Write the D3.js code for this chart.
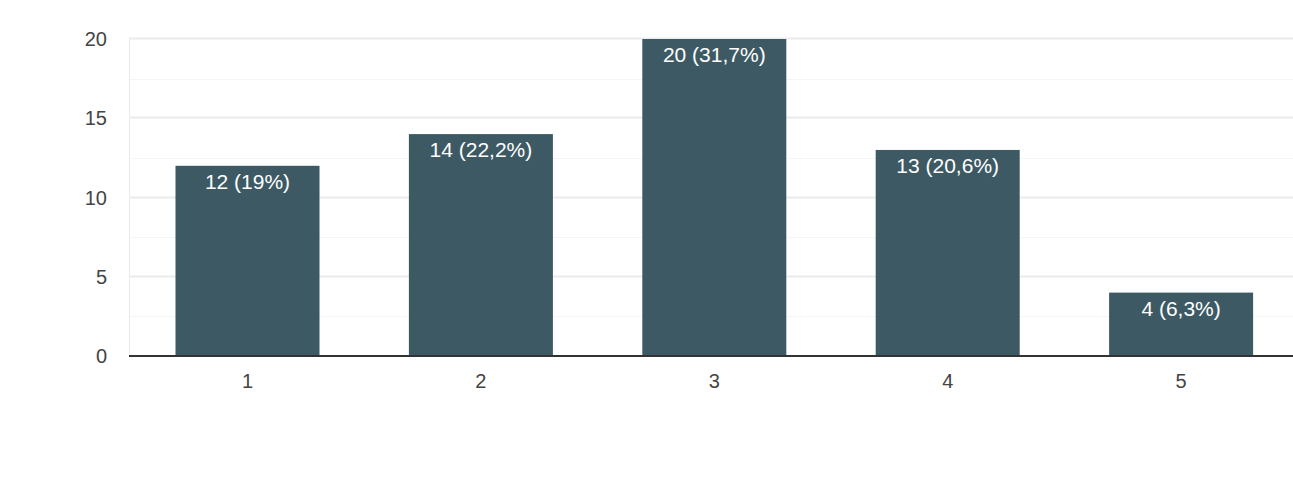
<!DOCTYPE html>
<html><head><meta charset="utf-8">
<script src="https://cdn.jsdelivr.net/npm/d3@7"></script>
<style>body{margin:0;background:#fff;} text{font-family:"Liberation Sans",Arial,sans-serif;}</style>
</head><body>
<svg id="c" width="1293" height="488"></svg>
<script>
const categories = ["1","2","3","4","5"];
const counts = [12, 14, 20, 13, 4];
const labels = ["12 (19%)","14 (22,2%)","20 (31,7%)","13 (20,6%)","4 (6,3%)"];
const yTicks = [0,5,10,15,20];
const yMinor = [2.5,7.5,12.5,17.5];

const svg = d3.select("#c");
const x = d3.scaleBand().domain(categories).range([130.8, 1297.8]).paddingInner(0.383).paddingOuter(0.1915);
const y = d3.scaleLinear().domain([0,20]).range([356, 39]);
const left = 129, right = 1293;

svg.append("g").selectAll("line").data(yMinor).join("line")
  .attr("x1", left).attr("x2", right).attr("y1", d=>Math.round(y(d))+0.5).attr("y2", d=>Math.round(y(d))+0.5)
  .attr("stroke", "#f5f5f5").attr("stroke-width", 1);
svg.append("g").selectAll("line").data(yTicks.filter(d=>d>0)).join("line")
  .attr("x1", left).attr("x2", right).attr("y1", d=>Math.round(y(d))-0.5).attr("y2", d=>Math.round(y(d))-0.5)
  .attr("stroke", "#ebebeb").attr("stroke-width", 2);
svg.append("line").attr("x1", left+0.5).attr("x2", left+0.5).attr("y1", y(20)-1.5).attr("y2", y(0))
  .attr("stroke", "#ebebeb").attr("stroke-width", 1);

svg.append("g").selectAll("text").data(yTicks).join("text")
  .attr("x", 107).attr("y", d=>y(d)+7).attr("text-anchor","end")
  .attr("font-size", 20).attr("fill", "#444").text(d=>d);

svg.append("g").selectAll("rect").data(counts).join("rect")
  .attr("x", (d,i)=>x(categories[i])).attr("width", x.bandwidth())
  .attr("y", d=>y(d)).attr("height", d=>y(0)-y(d)).attr("fill", "#3d5a64");

svg.append("g").selectAll("text").data(counts).join("text")
  .attr("x", (d,i)=>x(categories[i])+x.bandwidth()/2).attr("y", d=>y(d)+23)
  .attr("text-anchor","middle").attr("font-size", 21).attr("fill","#fff")
  .text((d,i)=>labels[i]);

svg.append("line").attr("x1", left).attr("x2", right).attr("y1", y(0)).attr("y2", y(0))
  .attr("stroke", "#333").attr("stroke-width", 2);

svg.append("g").selectAll("text").data(categories).join("text")
  .attr("x", d=>x(d)+x.bandwidth()/2).attr("y", 388).attr("text-anchor","middle")
  .attr("font-size", 20).attr("fill","#444").text(d=>d);
</script>
</body></html>
